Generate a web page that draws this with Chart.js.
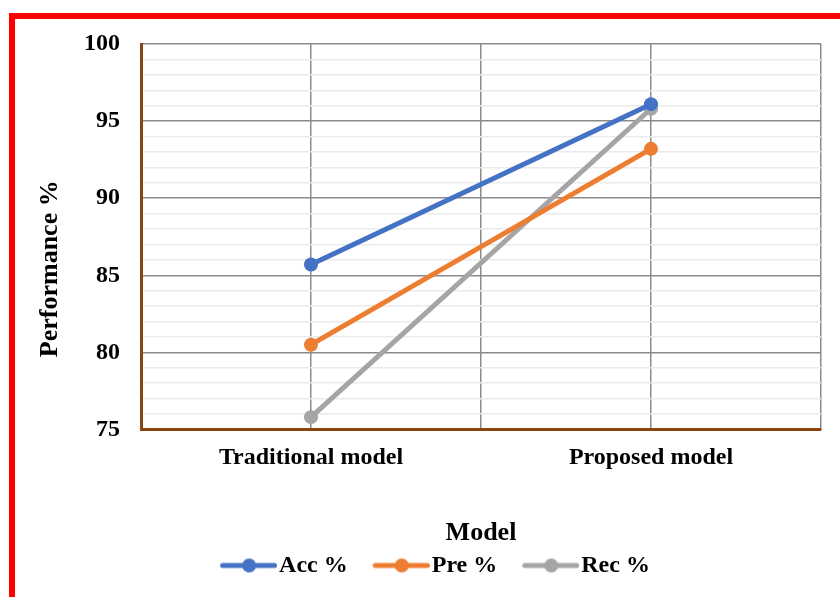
<!DOCTYPE html>
<html>
<head>
<meta charset="utf-8">
<script src="https://cdn.jsdelivr.net/npm/chart.js@4/dist/chart.umd.min.js"></script>
<style>
  html, body { margin: 0; padding: 0; background: #ffffff; overflow: hidden; }
  #wrap { position: relative; width: 840px; height: 597px; }
  #frame { position: absolute; left: 9px; top: 13px; width: 900px; height: 700px;
           border: 6px solid #ff0000; box-sizing: border-box; pointer-events: none; }
  canvas { position: absolute; left: 0; top: 0; }
</style>
</head>
<body>
<div id="wrap">
  <canvas id="chart" width="840" height="597"></canvas>
  <div id="frame"></div>
</div>
<script>
// Categories and series values
const categories = ['Traditional model', 'Proposed model'];
const seriesNames = ['Acc %', 'Pre %', 'Rec %'];
const accValues = [85.7, 96.1];
const preValues = [80.5, 93.2];
const recValues = [75.8, 95.8];

// Value axis range and tick spacing
const yMin = 75;
const yMax = 100;
const yMajorStep = 5;
const yMinorStep = 1;
const yTitle = 'Performance %';
const xTitle = 'Model';

const seriesColors = ['#4472C4', '#ED7D31', '#A5A5A5'];
const axisBrown = '#8B4513';
const majorGrid = '#8a8a8a';
const minorGrid = '#ebebeb';
const serif = "'Liberation Serif', 'Times New Roman', serif";

Chart.defaults.font.family = serif;

// Legend marker: a short line with a dot in the middle
function legendIcon(color) {
  const c = document.createElement('canvas');
  c.width = 76; c.height = 16;
  const g = c.getContext('2d');
  g.strokeStyle = color;
  g.lineWidth = 5;
  g.lineCap = 'round';
  g.beginPath(); g.moveTo(21.5, 8); g.lineTo(73.5, 8); g.stroke();
  g.fillStyle = color;
  g.beginPath(); g.arc(48, 8, 7, 0, Math.PI * 2); g.fill();
  return c;
}
const legendIcons = seriesColors.map(legendIcon);

// Vertical axis title, drawn a little below the middle of the plot
const yTitlePlugin = {
  id: 'yTitlePlugin',
  afterDraw(chart) {
    const { ctx, chartArea } = chart;
    ctx.save();
    ctx.translate(50, (chartArea.top + chartArea.bottom) / 2 + 32);
    ctx.rotate(-Math.PI / 2);
    ctx.font = 'bold 26px ' + serif;
    ctx.fillStyle = '#000000';
    ctx.textAlign = 'center';
    ctx.textBaseline = 'middle';
    ctx.fillText(yTitle, 0, 0);
    ctx.restore();
  }
};

const seriesValues = [accValues, preValues, recValues];
const datasets = seriesNames.map((name, i) => ({
  label: name,
  data: seriesValues[i],
  borderColor: seriesColors[i],
  backgroundColor: seriesColors[i],
  pointBackgroundColor: seriesColors[i],
  pointBorderWidth: 0,
  pointRadius: 7,
  borderWidth: 5,
  tension: 0,
  fill: false
}));

new Chart(document.getElementById('chart'), {
  type: 'line',
  data: { labels: categories, datasets },
  plugins: [yTitlePlugin],
  options: {
    responsive: false,
    animation: false,
    devicePixelRatio: 1,
    layout: { padding: { left: 40, top: 44, right: 19, bottom: 9.5 } },
    plugins: {
      tooltip: { enabled: false },
      legend: {
        position: 'bottom',
        labels: {
          usePointStyle: true,
          pointStyleWidth: 56,
          padding: 16,
          color: '#000000',
          font: { family: serif, size: 24, weight: 'bold' },
          generateLabels: (chart) => chart.data.datasets.map((ds, i) => ({
            text: ds.label,
            pointStyle: legendIcons[i],
            fillStyle: ds.borderColor,
            strokeStyle: ds.borderColor,
            lineWidth: 0,
            hidden: false,
            fontColor: '#000000',
            datasetIndex: i
          }))
        }
      }
    },
    scales: {
      x: {
        type: 'category',
        position: 'bottom',
        offset: true,
        grid: {
          offset: true,
          drawTicks: false,
          lineWidth: 1.5,
          color: (ctx) => ctx.index === 0 ? 'rgba(0,0,0,0)' : majorGrid
        },
        border: { display: true, color: axisBrown, width: 3 },
        ticks: {
          color: '#000000',
          padding: 14,
          font: { family: serif, size: 24, weight: 'bold' }
        },
        title: {
          display: true,
          text: xTitle,
          color: '#000000',
          font: { family: serif, size: 26, weight: 'bold' },
          padding: { top: 0, bottom: -11 }
        },
        afterFit: (scale) => { scale.height = 108; }
      },
      xMid: {
        type: 'category',
        labels: categories,
        position: 'top',
        offset: true,
        grid: { offset: false, drawTicks: false, lineWidth: 1.5, color: majorGrid },
        border: { display: false },
        ticks: { display: false },
        afterFit: (scale) => { scale.height = 0; }
      },
      y: {
        type: 'linear',
        min: yMin,
        max: yMax,
        grid: {
          drawTicks: false,
          lineWidth: 1.5,
          color: (ctx) => {
            const v = ctx.tick.value;
            if (v === yMin) return 'rgba(0,0,0,0)';
            return v % yMajorStep === 0 ? majorGrid : minorGrid;
          }
        },
        border: { display: true, color: axisBrown, width: 3 },
        ticks: {
          stepSize: yMinorStep,
          autoSkip: false,
          padding: 21,
          color: '#000000',
          font: { family: serif, size: 24, weight: 'bold' },
          callback: (v) => v % yMajorStep === 0 ? String(v) : ''
        },
        title: { display: false },
        afterFit: (scale) => { scale.width = 101; }
      }
    }
  }
});
</script>
</body>
</html>
